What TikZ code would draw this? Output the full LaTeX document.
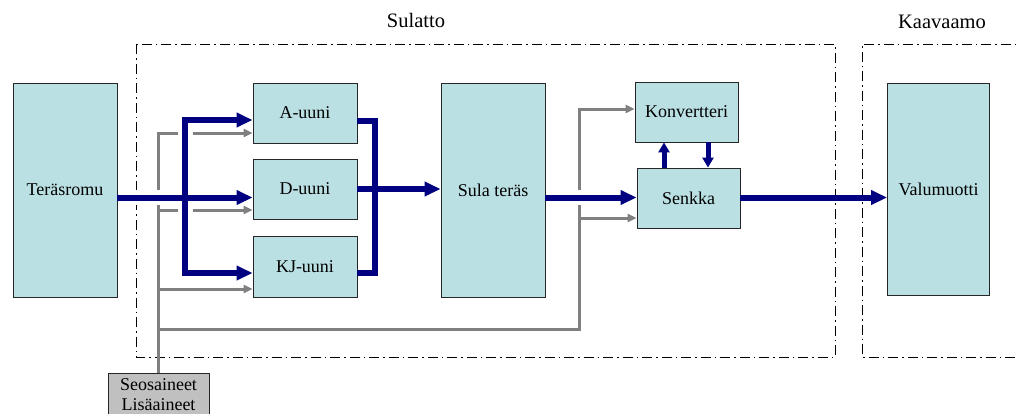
\documentclass[tikz,border=0pt]{standalone}
\usepackage{fontspec}
\setmainfont{Liberation Serif}
\newfontfamily\timesface{Liberation Serif}
\usetikzlibrary{arrows.meta,calc}
\definecolor{boxfill}{RGB}{186,224,227}
\definecolor{flowblue}{RGB}{0,0,128}
\definecolor{feedgray}{RGB}{128,128,128}
\definecolor{addfill}{RGB}{192,192,192}

\begin{document}
\begin{tikzpicture}[x=1pt,y=-1pt,
  unit/.style={draw=black!85, line width=0.9pt, fill=boxfill, inner sep=0pt,
    font=\timesface\fontsize{18}{20}\selectfont},
  bluearrow/.style={draw=flowblue, line width=6pt, -{Triangle[length=16pt,width=14pt]}},
  blueline/.style={draw=flowblue, line width=6pt},
  smallblue/.style={draw=flowblue, line width=5pt, -{Triangle[length=10pt,width=11pt]}},
  grayarrow/.style={draw=feedgray, line width=3pt, -{Triangle[length=9pt,width=8pt]}},
  halo/.style={draw=white, line width=15pt, shorten <=1pt, shorten >=1pt},
  area/.style={draw=black, line width=1pt, dash pattern=on 10pt off 4pt on 1.5pt off 4pt},
  title/.style={font=\timesface\fontsize{20.5}{22}\selectfont}]

\useasboundingbox (0,0) rectangle (1019,413);

% department frames
\draw[area] (136,44) rectangle (835,357);
\draw[area] (1030,44) -- (862,44) -- (862,357) -- (1030,357);
\node[title] (sulatto) at (416,20) {Sulatto};
\node[title] (kaavaamo) at (942,22) {Kaavaamo};

% process units
\node[unit, minimum width=104pt, minimum height=214pt] (rom) at (65,190) {Teräsromu};
\node[unit, minimum width=104pt, minimum height=60pt] (a) at (305,113) {A-uuni};
\node[unit, minimum width=104pt, minimum height=60pt] (d) at (305,189) {D-uuni};
\node[unit, minimum width=104pt, minimum height=61pt] (kj) at (305,266.5) {KJ-uuni};
\node[unit, minimum width=104pt, minimum height=214pt] (sula) at (493,190) {Sula teräs};
\node[unit, minimum width=103pt, minimum height=60pt] (konv) at (686.5,112) {Konvertteri};
\node[unit, minimum width=103pt, minimum height=60pt] (senk) at (688.5,198) {Senkka};
\node[unit, minimum width=102pt, minimum height=212pt] (valu) at (938.5,189) {Valumuotti};
\node[unit, fill=addfill, anchor=north, minimum width=101pt, inner ysep=5.5pt,
  align=center] (seos) at (158.5,373) {Seosaineet\\Lisäaineet};

% helper coordinates
\coordinate (yb) at (0,197.5);
\coordinate (fork) at (185,197.5);
\coordinate (xr) at (375,197.5);
\coordinate (xg) at (579,0);
\coordinate (yl) at (0,329);
\coordinate (up) at (664,0);
\coordinate (down) at (708,0);
\coordinate (ga) at ([yshift=-20pt]a.west);
\coordinate (gd) at ([yshift=-21pt]d.west);
\coordinate (gk) at ([yshift=-22.5pt]kj.west);
\coordinate (gkonv) at ([yshift=3pt]konv.west);
\coordinate (gsenk) at ([yshift=-20pt]senk.west);

% additive feeds
\draw[grayarrow] (seos.north) |- (ga);
\draw[grayarrow] (seos.north |- gd) -- (gd);
\draw[grayarrow] (seos.north |- gk) -- (gk);
\draw[grayarrow] (seos.north |- yl) -| (xg |- gkonv) -- (gkonv);
\draw[grayarrow] (xg |- gsenk) -- (gsenk);

% white gaps where the steel flow crosses the feeds
\draw[halo] (rom.east |- yb) -- (d.west |- yb);
\draw[halo] (185,120) -- (185,273);
\draw[halo] (sula.east |- yb) -- (senk.west |- yb);

% steel flow
\draw[bluearrow] (rom.east |- yb) -- (d.west |- yb);
\draw[bluearrow] (fork) |- ([yshift=-7pt]a.west);
\draw[bluearrow] (fork) |- ([yshift=-6.5pt]kj.west);
\draw[blueline] ([yshift=-8pt]a.east) -| (xr) |- ([yshift=-6.5pt]kj.east);
\draw[bluearrow] (d.east) -- (sula.west |- d.east);
\draw[bluearrow] (sula.east |- yb) -- (senk.west |- yb);
\draw[bluearrow] (senk.east |- yb) -- (valu.west |- yb);
\draw[smallblue] (senk.north -| up) -- (konv.south -| up);
\draw[smallblue] (konv.south -| down) -- (senk.north -| down);
\end{tikzpicture}
\end{document}
